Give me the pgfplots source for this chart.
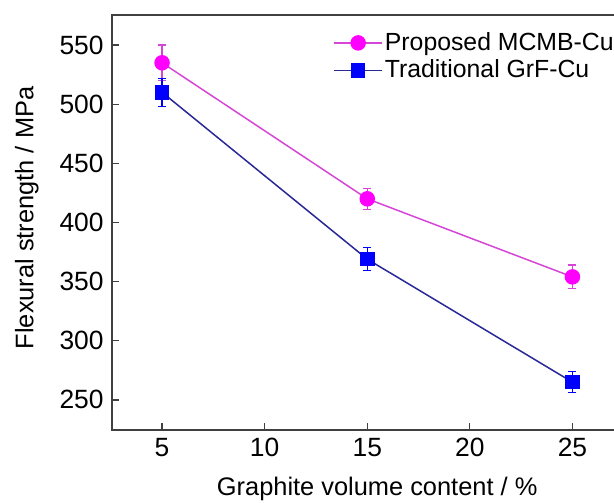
\documentclass[border=0pt]{standalone}
\usepackage{pgfplots}
\pgfplotsset{compat=1.18}
\usepackage{fontspec}
\setmainfont{Liberation Sans}
\definecolor{pinkline}{RGB}{214,70,214}
\definecolor{pinkmark}{RGB}{255,0,255}
\definecolor{blueline}{RGB}{40,40,150}
\definecolor{bluemark}{RGB}{0,0,255}
\begin{document}
\begin{tikzpicture}
\begin{axis}[
  scale only axis,
  width=261pt, height=207.5pt,
  xmin=2.56, xmax=28, ymin=224.6, ymax=575.4,
  xtick={5,10,15,20,25}, ytick={250,300,350,400,450,500,550},
  tick align=inside, xtick pos=bottom, ytick pos=left,
  major tick length=3.5pt,
  axis line style={line width=0.6pt, color=black!75},
  every tick/.style={line width=0.6pt, black!75},
  tick label style={font=\fontsize{13.2}{15}\selectfont},
  /pgf/number format/assume math mode=true,
  xticklabel style={yshift=-0.6pt},
  yticklabel style={xshift=-0.7pt},
  xlabel={Graphite volume content / \%},
  ylabel={Flexural strength / MPa},
  label style={font=\fontsize{12.7}{15}\selectfont},
  xlabel style={at={(axis description cs:0.508,-0.159)}, anchor=base},
  ylabel style={at={(axis description cs:-0.163,0.511)}, anchor=center, rotate=0},
  legend style={draw=none, fill=none, at={(axis description cs:0.4234,0.8995)}, anchor=west,
    inner sep=0pt, nodes={inner sep=1pt}, row sep=1.3pt, font=\fontsize{12.4}{14}\selectfont},
  legend cell align=left,
  legend image code/.code={\draw[mark repeat=2,mark phase=2] plot coordinates {(0pt,0pt) (12pt,0pt) (24pt,0pt)};},
]
\addplot[pinkline, line width=0.75pt, mark=*, mark size=3.5pt,
  mark options={draw=pinkmark, fill=pinkmark},
  error bars/.cd, y dir=both, y explicit,
  error bar style={pinkline, line width=0.6pt},
  error mark options={rotate=90, mark size=2pt, pinkline, line width=0.6pt}]
  coordinates {(5,535) +- (0,15) (15,420) +- (0,9) (25,354) +- (0,10)};
\addlegendentry{Proposed MCMB-Cu}
\addplot[blueline, line width=0.75pt, mark=square*, mark size=3.25pt,
  mark options={draw=bluemark, fill=bluemark},
  error bars/.cd, y dir=both, y explicit,
  error bar style={bluemark, line width=0.6pt},
  error mark options={rotate=90, mark size=2pt, bluemark, line width=0.6pt}]
  coordinates {(5,510) +- (0,12) (15,369) +- (0,9.5) (25,265) +- (0,9)};
\addlegendentry{Traditional GrF-Cu}
\coordinate (BBL) at (axis description cs:-0.2146,-0.1759);
\coordinate (BTR) at (axis description cs:0.9617,1.0361);
\end{axis}
\pgfresetboundingbox
\useasboundingbox (BBL) rectangle (BTR);
\end{tikzpicture}
\end{document}
